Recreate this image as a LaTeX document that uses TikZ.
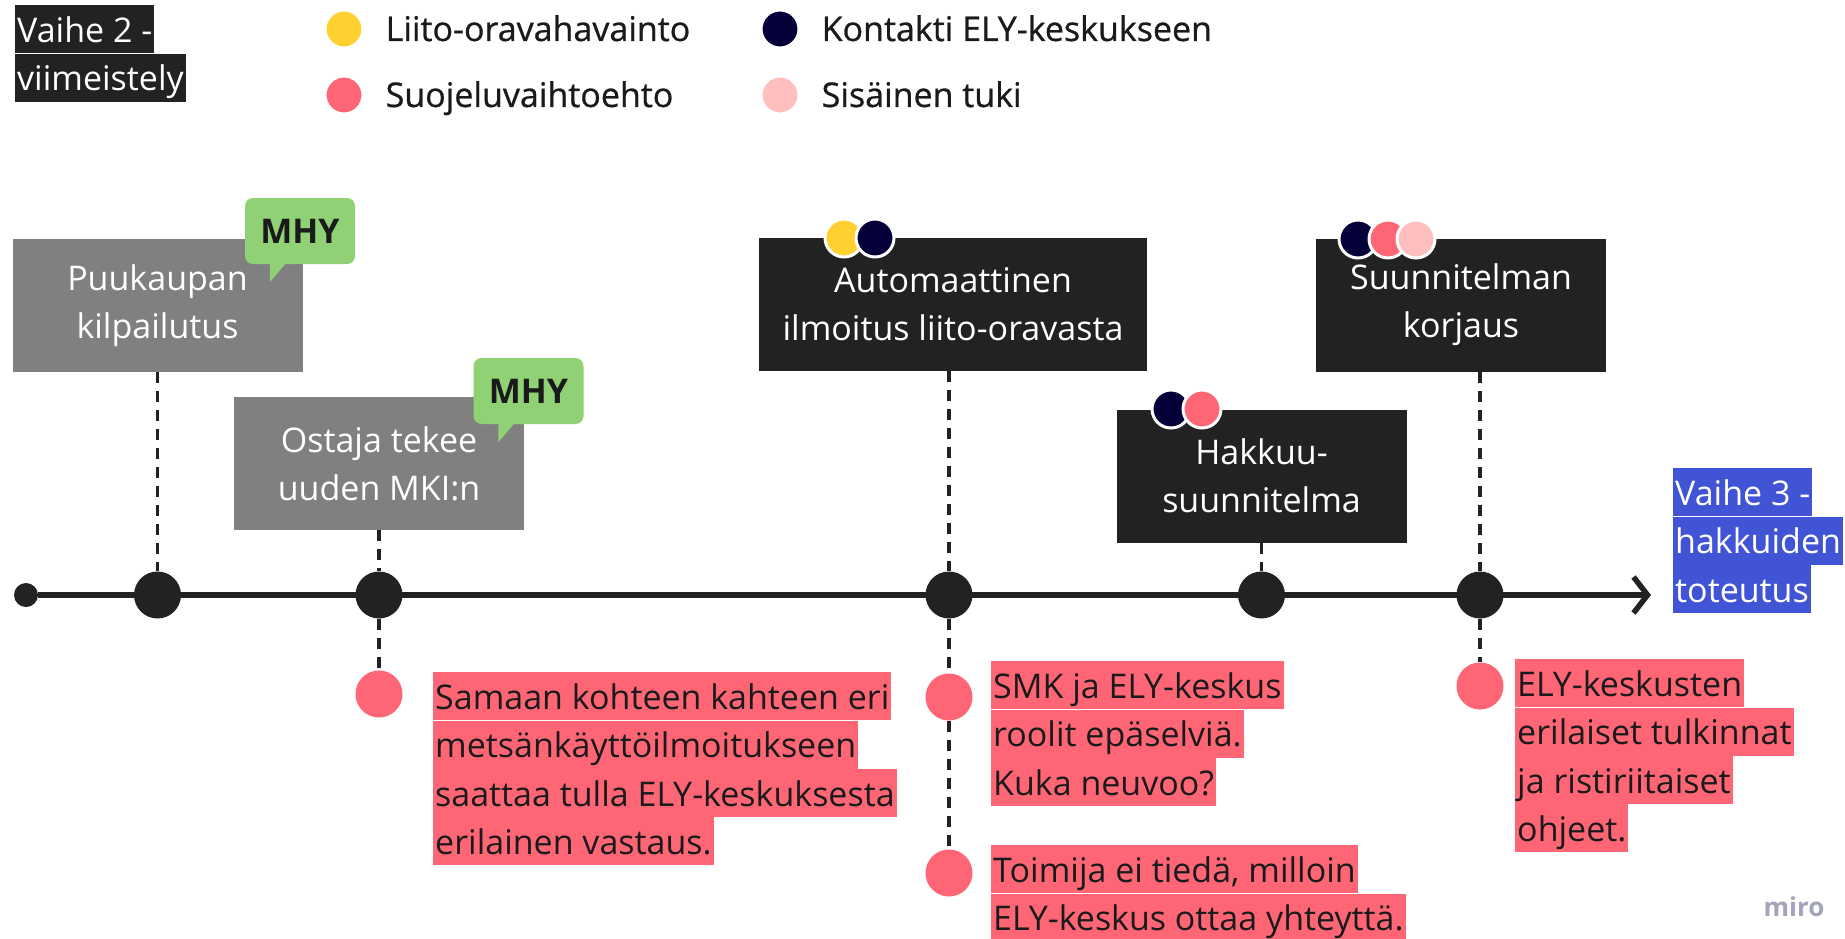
\documentclass[tikz,border=0pt]{standalone}
\usepackage{fontspec}
\setmainfont{Open Sans}
\newfontfamily\legendfont[FakeBold=0.7]{Open Sans}
\usetikzlibrary{positioning,arrows.meta}
\definecolor{boxgrey}{HTML}{808080}
\definecolor{boxdark}{HTML}{222222}
\definecolor{mhygreen}{HTML}{8FD174}
\definecolor{mirored}{HTML}{FF6675}
\definecolor{miropink}{HTML}{FFBFBF}
\definecolor{miroyellow}{HTML}{FFD02F}
\definecolor{miroblue}{HTML}{4154D6}
\definecolor{navy}{HTML}{050038}
\definecolor{ink}{HTML}{1A1A1A}
\definecolor{mirogrey}{HTML}{A3A3BA}

\begin{document}
\begin{tikzpicture}[x=1pt, y=-1pt,
    txt/.style={font=\fontsize{34}{48}\selectfont, inner sep=0pt},
    lgtxt/.style={txt, font=\fontsize{34}{48}\selectfont\legendfont, text=ink, text height=24pt, text depth=0pt},
    stepbox/.style={txt, text=white, align=center, minimum width=290pt, minimum height=133pt},
    hl/.style={txt, inner xsep=2pt, text height=37pt, text depth=11pt, anchor=north west},
    note/.style={hl, fill=mirored, text=ink},
    mhy/.style={txt, font=\fontsize{34}{48}\selectfont\bfseries, fill=mhygreen, text=ink,
        rounded corners=8pt, minimum width=110pt, minimum height=66pt},
    tag/.style={circle, draw=white, line width=3pt, inner sep=0pt, minimum size=38pt},
    dot/.style={circle, fill=boxdark, inner sep=0pt, minimum size=47pt},
    bullet/.style={circle, fill=mirored, inner sep=0pt, minimum size=47pt},
    link/.style={boxdark, line width=3.5pt, dash pattern=on 11pt off 8pt},
    ]
    \fill[white] (0,0) rectangle (1845,939);
    \useasboundingbox (0,0) rectangle (1845,939);

    % Phase 2 title
    \node[hl, fill=boxdark, text=white] (vaihe2a) at (15,5) {Vaihe 2 -\hspace{7pt}};
    \node[hl, fill=boxdark, text=white] (vaihe2b) at (vaihe2a.south west) {viimeistely};

    % Legend
    \node[tag, fill=miroyellow] (lgYellow) at (344,29) {};
    \node[lgtxt, right=21pt of lgYellow] (lgYellowTxt) {Liito-oravahavainto};
    \node[tag, fill=mirored] (lgRed) at (344,95) {};
    \node[lgtxt, right=21pt of lgRed] (lgRedTxt) {Suojeluvaihtoehto};
    \node[tag, fill=navy] (lgNavy) at (780,29) {};
    \node[lgtxt, right=21pt of lgNavy] (lgNavyTxt) {Kontakti ELY-keskukseen};
    \node[tag, fill=miropink] (lgPink) at (780,95) {};
    \node[lgtxt, right=21pt of lgPink] (lgPinkTxt) {Sisäinen tuki};

    % Steps
    \node[stepbox, fill=boxgrey] (bxKauppa) at (157.5,305.5) {Puukaupan\\kilpailutus};
    \node[stepbox, fill=boxgrey] (bxOstaja) at (379,463.5) {Ostaja tekee\\uuden MKI:n};
    \node[stepbox, fill=boxdark, minimum width=388pt] (bxIlmoitus) at (953,304) {Automaattinen\\ilmoitus liito-oravasta};
    \node[stepbox, fill=boxdark] (bxHakkuu) at (1261.5,476) {Hakkuu-\\suunnitelma};
    \node[stepbox, fill=boxdark] (bxKorjaus) at (1461,305) {Suunnitelman\\korjaus};

    % MHY speech bubbles
    \node[mhy] (mhyKauppa) at (300,231) {MHY};
    \fill[mhygreen] (mhyKauppa.south west) ++(25,-2) -- ++(17,0) -- ++(-17,20) -- cycle;
    \node[mhy] (mhyOstaja) at (528.5,391) {MHY};
    \fill[mhygreen] (mhyOstaja.south west) ++(25,-2) -- ++(17,0) -- ++(-17,20) -- cycle;

    % Tags on the steps
    \node[tag, fill=miroyellow] (tgIlmYellow) at (844,238) {};
    \node[tag, fill=navy, right=-10pt of tgIlmYellow] (tgIlmNavy) {};
    \node[tag, fill=navy] (tgHakNavy) at (1171,409) {};
    \node[tag, fill=mirored, right=-10pt of tgHakNavy] (tgHakRed) {};
    \node[tag, fill=navy] (tgKorNavy) at (1358,239) {};
    \node[tag, fill=mirored, right=-11pt of tgKorNavy] (tgKorRed) {};
    \node[tag, fill=miropink, right=-13pt of tgKorRed] (tgKorPink) {};

    % Timeline
    \node[circle, fill=boxdark, inner sep=0pt, minimum size=24pt] (tStart) at (26,595) {};
    \coordinate (tEnd) at (1651,595);
    \draw[boxdark, line width=5.5pt, -{Straight Barb[length=14pt,width=36pt]}] (tStart) -- (tEnd);

    \node[dot] (dKauppa) at (bxKauppa |- tStart) {};
    \node[dot] (dOstaja) at (bxOstaja |- tStart) {};
    \node[dot] (dIlmoitus) at (949,595) {};
    \node[dot] (dHakkuu) at (bxHakkuu |- tStart) {};
    \node[dot] (dKorjaus) at (1480,595) {};

    \draw[link] (bxKauppa) -- (dKauppa);
    \draw[link] (bxOstaja) -- (dOstaja);
    \draw[link] (dIlmoitus |- bxIlmoitus.south) -- (dIlmoitus);
    \draw[link] (bxHakkuu) -- (dHakkuu);
    \draw[link] (dKorjaus |- bxKorjaus.south) -- (dKorjaus);

    % Phase 3 label
    \node[hl, fill=miroblue, text=white] (vaihe3a) at (1673,468) {Vaihe 3 -\hspace{7pt}};
    \node[hl, fill=miroblue, text=white] (vaihe3b) at (vaihe3a.south west) {hakkuiden};
    \node[hl, fill=miroblue, text=white] (vaihe3c) at (vaihe3b.south west) {toteutus};

    % Problems
    \node[bullet] (bOstaja) at (dOstaja |- 0,694) {};
    \draw[link] (dOstaja) -- (bOstaja);
    \node[note] (nSamaan1) at (433,672) {Samaan kohteen kahteen eri};
    \node[note] (nSamaan2) at (nSamaan1.south west) {metsänkäyttöilmoitukseen};
    \node[note] (nSamaan3) at (nSamaan2.south west) {saattaa tulla ELY-keskuksesta};
    \node[note] (nSamaan4) at (nSamaan3.south west) {erilainen vastaus.};

    \node[bullet] (bIlmA) at (dIlmoitus |- 0,697) {};
    \node[bullet] (bIlmB) at (dIlmoitus |- 0,873) {};
    \draw[link] (dIlmoitus) -- (bIlmA) -- (bIlmB);
    \node[note] (nSmk1) at (991,661) {SMK ja ELY-keskus};
    \node[note] (nSmk2) at (nSmk1.south west) {roolit epäselviä.};
    \node[note] (nSmk3) at (nSmk2.south west) {Kuka neuvoo?};
    \node[note] (nToimija1) at (991,845) {Toimija ei tiedä, milloin};
    \node[note] (nToimija2) at (nToimija1.south west) {ELY-keskus ottaa yhteyttä.};

    \node[bullet] (bKorjaus) at (dKorjaus |- 0,686) {};
    \draw[link] (dKorjaus) -- (bKorjaus);
    \node[note] (nTulkinta1) at (1515,659) {ELY-keskusten};
    \node[note] (nTulkinta2) at (nTulkinta1.south west) {erilaiset tulkinnat};
    \node[note] (nTulkinta3) at (nTulkinta2.south west) {ja ristiriitaiset};
    \node[note] (nTulkinta4) at (nTulkinta3.south west) {ohjeet.};

    % Watermark
    \node[font=\fontsize{26}{30}\selectfont\bfseries, text=mirogrey] (miro) at (1794,907) {miro};
\end{tikzpicture}
\end{document}
